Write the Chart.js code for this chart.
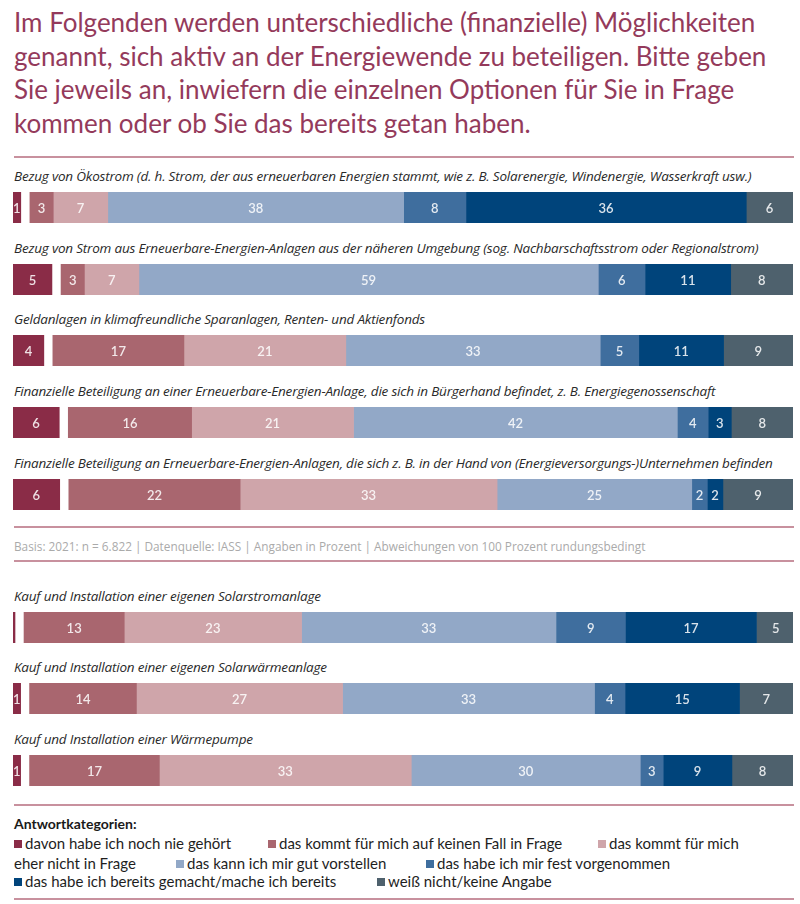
<!DOCTYPE html>
<html><head><meta charset="utf-8">
<script src="https://cdn.jsdelivr.net/npm/chart.js@4.4.0/dist/chart.umd.min.js"></script>
<style>
body{margin:0;background:#fff;}
#page{position:relative;width:800px;height:904px;overflow:hidden;background:#fff;font-family:Lato,"Open Sans",sans-serif;}
.title{position:absolute;left:14px;top:6px;color:#943a5b;font-size:26px;line-height:33.5px;white-space:nowrap;}
.rule{position:absolute;left:14px;width:780px;height:2px;background:#c8919e;}
.rowlabel{position:absolute;left:14px;font-family:"Open Sans",sans-serif;font-style:italic;font-size:13.5px;line-height:16px;color:#2a2a2a;white-space:nowrap;letter-spacing:-0.2px;}
.barbox{position:absolute;left:13px;width:780px;height:31px;}
.foot{position:absolute;left:14px;top:538px;font-family:"Open Sans",sans-serif;font-size:11.8px;line-height:16px;color:#aaaaaa;white-space:nowrap;}
.lghead{position:absolute;left:14px;top:815px;font-size:14px;font-weight:bold;color:#1a1a1a;line-height:18px;}
.lg{position:absolute;font-size:15px;line-height:18px;color:#1e1e1e;white-space:nowrap;}
.sq{display:inline-block;width:8px;height:8px;margin-right:3px;vertical-align:1px;}
</style></head>
<body><div id="page">
<div class="title">Im Folgenden werden unterschiedliche (finanzielle) Möglichkeiten<br>genannt, sich aktiv an der Energiewende zu beteiligen. Bitte geben<br>Sie jeweils an, inwiefern die einzelnen Optionen für Sie in Frage<br>kommen oder ob Sie das bereits getan haben.</div>
</div>
<script>
// ---- data ----
const rowLabels = [
  "Bezug von Ökostrom (d. h. Strom, der aus erneuerbaren Energien stammt, wie z. B. Solarenergie, Windenergie, Wasserkraft usw.)",
  "Bezug von Strom aus Erneuerbare-Energien-Anlagen aus der näheren Umgebung (sog. Nachbarschaftsstrom oder Regionalstrom)",
  "Geldanlagen in klimafreundliche Sparanlagen, Renten- und Aktienfonds",
  "Finanzielle Beteiligung an einer Erneuerbare-Energien-Anlage, die sich in Bürgerhand befindet, z. B. Energiegenossenschaft",
  "Finanzielle Beteiligung an Erneuerbare-Energien-Anlagen, die sich z. B. in der Hand von (Energieversorgungs-)Unternehmen befinden",
  "Kauf und Installation einer eigenen Solarstromanlage",
  "Kauf und Installation einer eigenen Solarwärmeanlage",
  "Kauf und Installation einer Wärmepumpe"
];
const seriesNames = [
  "davon habe ich noch nie gehört",
  "das kommt für mich auf keinen Fall in Frage",
  "das kommt für mich eher nicht in Frage",
  "das kann ich mir gut vorstellen",
  "das habe ich mir fest vorgenommen",
  "das habe ich bereits gemacht/mache ich bereits",
  "weiß nicht/keine Angabe"
];
const nieGehoert      = [1, 5, 4, 6, 6, 0, 1, 1];
const keinenFall      = [3, 3, 17, 16, 22, 13, 14, 17];
const eherNicht       = [7, 7, 21, 21, 33, 23, 27, 33];
const gutVorstellen   = [38, 59, 33, 42, 25, 33, 33, 30];
const festVorgenommen = [8, 6, 5, 4, 2, 9, 4, 3];
const bereitsGemacht  = [36, 11, 11, 3, 2, 17, 15, 9];
const weissNicht      = [6, 8, 9, 8, 9, 5, 7, 8];
const footnote = "Basis: 2021: n = 6.822 | Datenquelle: IASS | Angaben in Prozent | Abweichungen von 100 Prozent rundungsbedingt";

// ---- style / layout ----
const colors = ["#8a2c47", "#a9666f", "#cfa5aa", "#92a8c7", "#3f6e9e", "#00447b", "#4e616d"];
const barTops = [192, 264, 335, 407, 479, 612, 683, 755];
const ruleTops = [156, 526, 560, 804, 898];
const GAP = 1.17;
const legendPos = [[14,834],[268,834],[598,834],[176,854],[426,854],[14,872],[377,872]];

const page = document.getElementById('page');
ruleTops.forEach(t => { const d = document.createElement('div'); d.className='rule'; d.style.top=t+'px'; page.appendChild(d); });
const f = document.createElement('div'); f.className='foot'; f.textContent = footnote; page.appendChild(f);

const series = [nieGehoert, keinenFall, eherNicht, gutVorstellen, festVorgenommen, bereitsGemacht, weissNicht];

const labelPlugin = {
  id: 'segLabels',
  afterDatasetsDraw(chart) {
    const ctx = chart.ctx;
    ctx.save();
    ctx.font = '600 13px Lato, "Open Sans", sans-serif';
    ctx.fillStyle = 'rgba(255,255,255,0.85)';
    ctx.textAlign = 'center';
    ctx.textBaseline = 'middle';
    chart.data.datasets.forEach((ds, i) => {
      if (ds.isSpacer) return;
      const meta = chart.getDatasetMeta(i);
      meta.data.forEach((el, j) => {
        const v = ds.data[j];
        if (!v) return;
        ctx.fillText(String(v), (el.x + el.base) / 2, el.y + 1);
      });
    });
    ctx.restore();
  }
};

rowLabels.forEach((lab, r) => {
  const l = document.createElement('div'); l.className='rowlabel'; l.textContent = lab;
  l.style.top = (barTops[r] - 24) + 'px'; page.appendChild(l);
  const box = document.createElement('div'); box.className='barbox'; box.style.top = barTops[r]+'px';
  const cv = document.createElement('canvas'); cv.width = 780; cv.height = 31; box.appendChild(cv); page.appendChild(box);
  const total = series.reduce((s, a) => s + a[r], 0);
  const datasets = [];
  series.forEach((arr, k) => {
    datasets.push({ data: [arr[r]], backgroundColor: colors[k], borderWidth: 0, barPercentage: 1, categoryPercentage: 1, minBarLength: k === 0 ? 2 : 0 });
    if (k === 0) datasets.push({ data: [GAP], backgroundColor: 'rgba(0,0,0,0)', borderWidth: 0, barPercentage: 1, categoryPercentage: 1, isSpacer: true });
  });
  new Chart(cv, {
    type: 'bar',
    data: { labels: [lab], datasets },
    options: {
      indexAxis: 'y', responsive: false, animation: false,
      layout: { padding: 0 },
      scales: {
        x: { stacked: true, min: 0, max: total + GAP, display: false },
        y: { stacked: true, display: false }
      },
      plugins: { legend: { display: false }, tooltip: { enabled: false } }
    },
    plugins: [labelPlugin]
  });
});

// legend
const h = document.createElement('div'); h.className='lghead'; h.textContent='Antwortkategorien:'; page.appendChild(h);
seriesNames.forEach((n, k) => {
  const d = document.createElement('div'); d.className='lg';
  d.style.left = legendPos[k][0]+'px'; d.style.top = legendPos[k][1]+'px';
  const sq = document.createElement('span'); sq.className='sq'; sq.style.background = colors[k]; d.appendChild(sq);
  let txt = n, rest = null;
  if (k === 2) { txt = "das kommt für mich"; rest = n.slice(txt.length + 1); }
  d.appendChild(document.createTextNode(txt));
  page.appendChild(d);
  if (rest) {
    const d2 = document.createElement('div'); d2.className='lg';
    d2.style.left = '14px'; d2.style.top = legendPos[3][1]+'px'; d2.textContent = rest; page.appendChild(d2);
  }
});
</script>
</body></html>
